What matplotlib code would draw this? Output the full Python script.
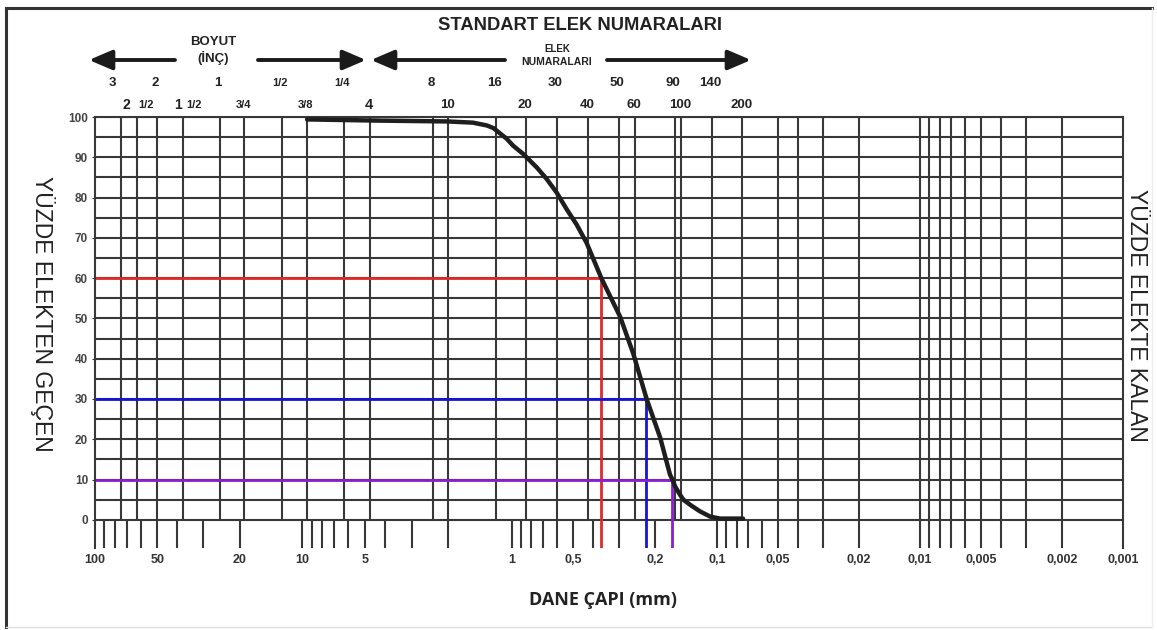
import numpy as np
import matplotlib
matplotlib.use("Agg")
import matplotlib.pyplot as plt
from matplotlib.lines import Line2D
from matplotlib.patches import FancyArrowPatch
import matplotlib.transforms as mtransforms

# ---------------- data ----------------
# grain-size curve (mm, % passing)
grain_mm = [9.46, 4.24, 2.03, 1.53, 1.31, 1.22, 1.054, 0.983, 0.876, 0.754, 0.674,
            0.603, 0.539, 0.482, 0.431, 0.364, 0.296, 0.2555, 0.220, 0.189, 0.1694,
            0.1635, 0.160, 0.1514, 0.1459, 0.1353, 0.121, 0.108, 0.0966, 0.0744]
passing = [99.4, 99.1, 98.9, 98.6, 97.9, 97.25, 94.6, 92.9, 90.8, 87.5, 84.6,
           81.25, 77.1, 73.3, 68.75, 59.8, 50.4, 41.25, 30.0, 20.4, 11.25,
           9.6, 8.3, 6.25, 5.0, 3.75, 2.1, 0.8, 0.3, 0.3]

# characteristic diameters
d_levels = [60, 30, 10]
d_values = [0.368, 0.222, 0.165]
d_colors = ["#e02a2a", "#1414d8", "#8a1fd0"]

# sieve openings (mm) for upper grid
sieve_mm = [75, 63, 50, 37.5, 25, 19, 12.5, 9.5, 6.3, 4.75, 2.36, 2.0, 1.18, 0.85,
            0.6, 0.425, 0.3, 0.25, 0.16, 0.15, 0.106, 0.075]

# top labels: row 1 and row 2 (text, mm)
row1_labels = ["3", "2", "1", "1/2", "1/4", "8", "16", "30", "50", "90", "140"]
row1_mm = [75, 50, 25, 12.5, 6.3, 2.36, 1.18, 0.6, 0.3, 0.16, 0.106]
row2_labels = ["3/4", "3/8", "4", "10", "20", "40", "60", "100", "200"]
row2_mm = [19, 9.5, 4.75, 2.0, 0.85, 0.425, 0.25, 0.15, 0.075]

# bottom tick labels
x_ticks = [100, 50, 20, 10, 5, 1, 0.5, 0.2, 0.1, 0.05, 0.02, 0.01, 0.005, 0.002, 0.001]
x_ticklabels = ["100", "50", "20", "10", "5", "1", "0,5", "0,2", "0,1", "0,05",
                "0,02", "0,01", "0,005", "0,002", "0,001"]
y_ticks = list(range(0, 101, 10))

# ---------------- figure ----------------
W, H = 1157, 630
fig = plt.figure(figsize=(W / 100, H / 100), dpi=100)
fig.patch.set_facecolor("white")
FONT = "Liberation Sans"

ax_l, ax_r, ax_t, ax_b = 95, 1123, 117, 548
ax = fig.add_axes([ax_l / W, 1 - ax_b / H, (ax_r - ax_l) / W, (ax_b - ax_t) / H])

# log-type scale with the per-decade spacing of the printed chart sheet
# (increasing function of size; the axis is then inverted by the limits)
_dec = np.array([-3.0, -2.0, -1.0, 0.0, 1.0, 2.0])          # log10(mm) at decade lines
_pos = np.array([-1123.0, -920.0, -717.0, -511.5, -302.0, -95.0])  # sheet position (negated)


def _fwd(x):
    lx = np.log10(np.clip(np.asarray(x, dtype=float), 1e-12, None))
    p = np.interp(lx, _dec, _pos)
    s_lo = (_pos[1] - _pos[0]) / (_dec[1] - _dec[0])
    s_hi = (_pos[-1] - _pos[-2]) / (_dec[-1] - _dec[-2])
    p = np.where(lx < _dec[0], _pos[0] + (lx - _dec[0]) * s_lo, p)
    p = np.where(lx > _dec[-1], _pos[-1] + (lx - _dec[-1]) * s_hi, p)
    return p


def _inv(p):
    p = np.asarray(p, dtype=float)
    lx = np.interp(p, _pos, _dec)
    s_lo = (_pos[1] - _pos[0]) / (_dec[1] - _dec[0])
    s_hi = (_pos[-1] - _pos[-2]) / (_dec[-1] - _dec[-2])
    lx = np.where(p < _pos[0], _dec[0] + (p - _pos[0]) / s_lo, lx)
    lx = np.where(p > _pos[-1], _dec[-1] + (p - _pos[-1]) / s_hi, lx)
    return 10.0 ** lx


ax.set_xscale("function", functions=(_fwd, _inv))
ax.set_xlim(100, 0.001)
YMIN = -7.0
ax.set_ylim(YMIN, 100)

grid_c = "#383838"
grid_lw = 1.5

# horizontal grid
for y in range(0, 101, 5):
    ax.axhline(y, color=grid_c, lw=grid_lw, zorder=1)

# log ticks
log_ticks = []
for e in range(-3, 2):
    for k in range(1, 10):
        v = k * 10.0 ** e
        if 0.001 < v < 100:
            log_ticks.append(v)

upper = sieve_mm + [t for t in log_ticks if t <= 0.0501]
ax.vlines(upper, 0, 100, colors=grid_c, lw=grid_lw, zorder=1)
ax.vlines(log_ticks, YMIN, 0, colors=grid_c, lw=grid_lw, zorder=1)

for s in ["left", "right", "top"]:
    ax.spines[s].set_color(grid_c)
    ax.spines[s].set_linewidth(grid_lw)
ax.spines["bottom"].set_visible(False)

# reference lines
for lvl, dv, c in zip(d_levels, d_values, d_colors):
    ax.plot([100, dv], [lvl, lvl], color=c, lw=2.0, zorder=2, solid_capstyle="butt")
    ax.plot([dv, dv], [lvl, YMIN], color=c, lw=2.0, zorder=2, solid_capstyle="butt")

# curve
ax.plot(grain_mm, passing, color="#1e1e1e", lw=3.2, zorder=3,
        solid_capstyle="round", solid_joinstyle="round")

# ticks
ax.set_xticks(x_ticks)
ax.set_xticklabels(x_ticklabels, fontfamily=FONT, fontweight="bold", fontsize=9, color="#333333")
ax.minorticks_off()
ax.tick_params(axis="x", which="both", length=0, pad=4)
ax.set_yticks(y_ticks)
ax.set_yticklabels([str(v) for v in y_ticks], fontfamily=FONT, fontweight="bold",
                   fontsize=8.5, color="#444444")
ax.tick_params(axis="y", length=2, pad=3, color=grid_c)

# ---------------- top labels ----------------
tr = mtransforms.blended_transform_factory(ax.transData, fig.transFigure)
y_row1 = 1 - 83 / H
y_row2 = 1 - 105 / H


def txt(xmm, yfig, s, size, dx=0):
    t = mtransforms.offset_copy(tr, fig=fig, x=dx, y=0, units="dots")
    fig.text(xmm, yfig, s, transform=t, ha="center", va="center", fontfamily=FONT,
             fontweight="bold", fontsize=size, color="#222222")


for s, m in zip(row1_labels, row1_mm):
    size = 8 if "/" in s else 9.5
    dx = -8 if s == "3" else -2
    txt(m, y_row1, s, size, dx)

# compound fractions
txt(63, y_row2, "2", 10, -10)
txt(63, y_row2, "1/2", 8, 9)
txt(37.5, y_row2, "1", 10, -5)
txt(37.5, y_row2, "1/2", 8, 11)
for s, m in zip(row2_labels, row2_mm):
    size = 8 if "/" in s else (10.5 if s == "4" else 9.5)
    txt(m, y_row2, s, size, -1)

fig.text(580 / W, 1 - 25 / H, "STANDART ELEK NUMARALARI", ha="center", va="center",
         fontfamily=FONT, fontweight="bold", fontsize=13.2, color="#222222")
fig.text(213 / W, 1 - 42 / H, "BOYUT", ha="center", va="center",
         fontfamily=FONT, fontweight="bold", fontsize=9.5, color="#222222")
fig.text(213 / W, 1 - 58 / H, "(İNÇ)", ha="center", va="center",
         fontfamily=FONT, fontweight="bold", fontsize=9.5, color="#222222")
fig.text(557 / W, 1 - 49 / H, "ELEK", ha="center", va="center",
         fontfamily=FONT, fontweight="bold", fontsize=7, color="#222222")
fig.text(557 / W, 1 - 62 / H, "NUMARALARI", ha="center", va="center",
         fontfamily=FONT, fontweight="bold", fontsize=7.5, color="#222222")

# arrows (figure pixels, y from bottom)
arrows = [(175, 89), (258, 366), (505, 371), (607, 751)]
for tail, tip in arrows:
    fig.add_artist(FancyArrowPatch(
        (tail, H - 60), (tip, H - 60), transform=None,
        arrowstyle="-|>,head_length=1.4,head_width=0.6", mutation_scale=10,
        lw=2.8, color="#1a1a1a", shrinkA=0, shrinkB=0))

# axis titles
fig.text(603 / W, 1 - 600 / H, "DANE ÇAPI (mm)", ha="center", va="center",
         fontfamily="Open Sans", fontweight="bold", fontsize=13, color="#222222")
fig.text(42 / W, 1 - 314 / H, "YÜZDE ELEKTEN GEÇEN", ha="center", va="center",
         rotation=270, fontfamily=FONT, fontsize=16.5, color="#222222")
fig.text(1137 / W, 1 - 315 / H, "YÜZDE ELEKTE KALAN", ha="center", va="center",
         rotation=270, fontfamily=FONT, fontsize=16.5, color="#222222")

# outer frame
fig.add_artist(Line2D([6 / W, 6 / W], [1 - 8 / H, 1 - 627 / H], transform=fig.transFigure,
                      color="#333333", lw=2.2))
fig.add_artist(Line2D([6 / W, 1152 / W], [1 - 8 / H, 1 - 8 / H], transform=fig.transFigure,
                      color="#333333", lw=2.2))
fig.add_artist(Line2D([6 / W, 1152 / W], [1 - 627 / H, 1 - 627 / H], transform=fig.transFigure,
                      color="#dddddd", lw=1))
fig.add_artist(Line2D([1152 / W, 1152 / W], [1 - 8 / H, 1 - 627 / H], transform=fig.transFigure,
                      color="#eeeeee", lw=1))

fig.savefig("out.png", dpi=100, facecolor="white")
